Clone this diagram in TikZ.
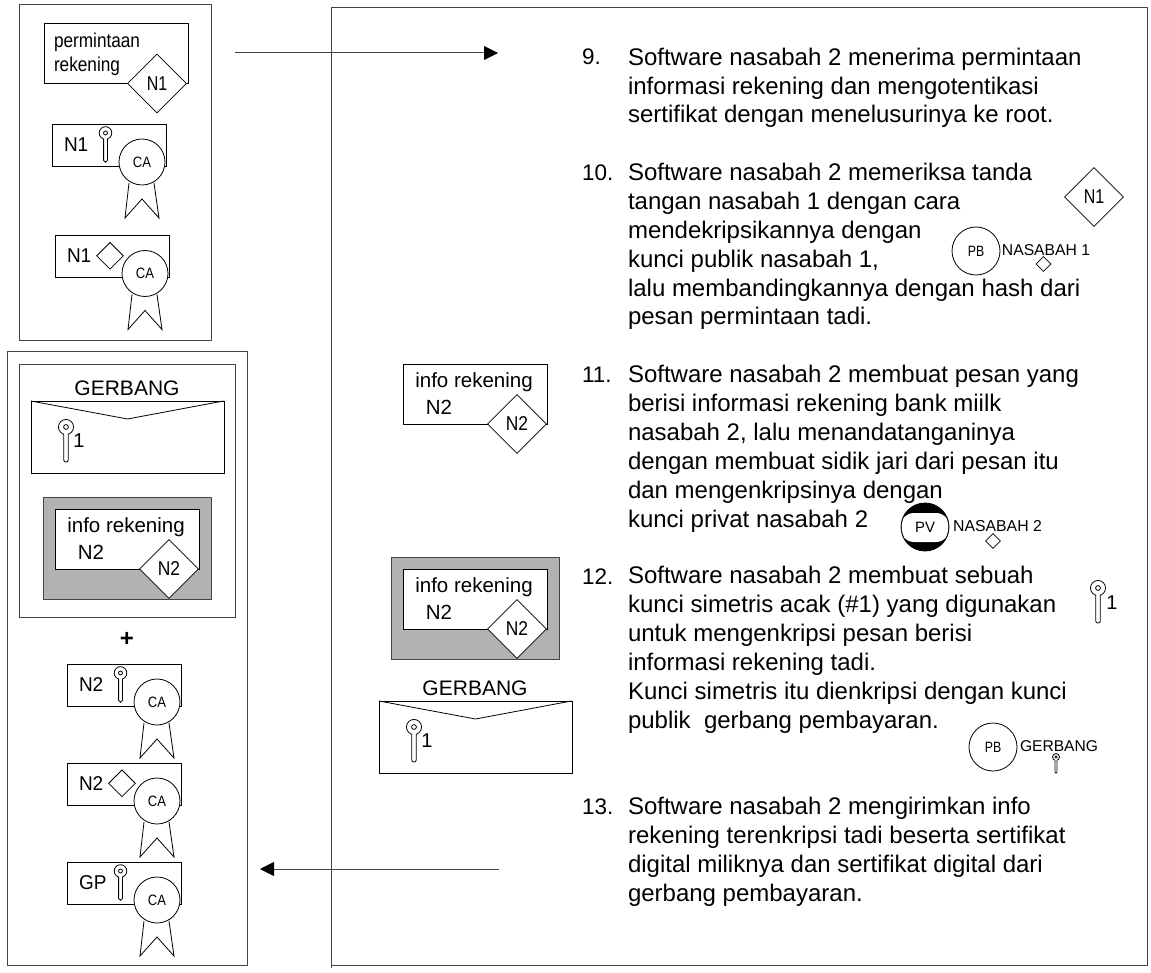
\documentclass[tikz,border=0pt]{standalone}
\usepackage{fontspec}
\setmainfont{Liberation Sans}
\usetikzlibrary{shapes.geometric,arrows.meta}
\definecolor{framec}{HTML}{444444}
\definecolor{boxgray}{HTML}{B2B2B2}
\newcommand\fsz[1]{\fontsize{#1}{28.95}\selectfont}
\newcommand\narrow[2]{\scalebox{#1}[1]{#2}}
\tikzset{
  frame/.style={draw=framec,line width=1pt},
  doc/.style={draw,line width=.8pt,fill=white,anchor=north west,inner sep=0pt},
  lbl/.style={inner sep=0pt,outer sep=0pt},
  body/.style={lbl,align=left,anchor=base west,font=\fsz{24}},
  num/.style={lbl,anchor=base west,font=\fsz{22.5}},
  sig/.style={diamond,draw,line width=.8pt,fill=white,inner sep=0pt,minimum width=59pt,minimum height=59pt,font=\fsz{20}},
  tinysig/.style={diamond,draw,line width=.8pt,fill=white,inner sep=0pt,minimum width=#1,minimum height=#1},
  seal/.style={circle,draw,line width=.8pt,fill=white,inner sep=0pt,minimum size=46pt,font=\fsz{15}},
  arrowline/.style={draw=framec,line width=1pt,-{Triangle[length=14pt,width=14pt,color=black]}}
}
% key icon: head centre at (#1,#2), scale #3
\newcommand\keyicon[3]{%
  \begin{scope}[shift={(#1,#2)},scale=#3,line width=.8pt]
    \draw (0,0) circle[radius=6.3];
    \draw (0,0) circle[radius=2];
    \fill[white] (-1.5,4) rectangle (1.5,7.5);
    \draw (-1.9,5.9) -- (-1.9,27.5) .. controls (-1.9,29.8) and (1.9,29.8) .. (1.9,27.5) -- (1.9,5.9);
  \end{scope}}
% ribbon + seal + frame of a certificate; #1 name, #2 x, #3 y, #4 label
\newcommand\certbase[4]{%
  \node[doc,minimum width=114pt,minimum height=42pt] (#1) at (#2,#3) {};
  \begin{scope}[shift={(#2,#3)}]
    \draw[line width=.8pt] (77,59) -- (73,94) -- (90,75) -- (107,94) -- (102,59);
    \node[seal] (#1ca) at (90,38) {\narrow{.87}{CA}};
    \node[lbl,anchor=base west,font=\fsz{20}] (#1t) at (12,27.5) {\narrow{.95}{#4}};
  \end{scope}}
\newcommand\certkey[4]{\certbase{#1}{#2}{#3}{#4}%
  \begin{scope}[shift={(#2,#3)}]\keyicon{53.5}{9}{1}\end{scope}}
\newcommand\certsig[4]{\certbase{#1}{#2}{#3}{#4}%
  \begin{scope}[shift={(#2,#3)}]\node[tinysig=27pt] (#1d) at (55,20.3) {};\end{scope}}
% signed info message at doc corner #2,#3
\newcommand\infodoc[3]{%
  \node[doc,minimum width=144pt,minimum height=60pt] (#1) at (#2,#3) {};
  \begin{scope}[shift={(#2,#3)}]
    \node[lbl,font=\fsz{20.5}] (#1a) at (71,18) {info rekening};
    \node[lbl,font=\fsz{20.5}] (#1b) at (36,43) {N2};
    \node[sig] (#1d) at (114,60) {\narrow{.87}{N2}};
  \end{scope}}
% envelope; #2 x, #3 y
\newcommand\envelope[3]{%
  \node[doc,minimum width=192.5pt,minimum height=72pt] (#1) at (#2,#3) {};
  \begin{scope}[shift={(#2,#3)}]
    \draw[line width=.8pt] (0,0) -- (96.5,18) -- (192.5,0);
    \keyicon{35}{26}{1.2}
    \node[lbl,font=\fsz{20}] (#1n) at (48,40) {1};
    \node[lbl,font=\fsz{21}] (#1g) at (96,-13) {GERBANG};
  \end{scope}}
\begin{document}
\begin{tikzpicture}[x=1pt,y=-1pt]
\useasboundingbox (0,0) rectangle (1151,973);
% frames
\draw[frame] (19,5) rectangle (211,341);
\draw[frame] (7,352) rectangle (247,965);
\draw[frame] (19,365) rectangle (235,617);
\draw[frame] (331,7.5) -- (1147,7.5) -- (1147,965) -- (331,965);
\draw[frame] (331,7.5) -- (331,968);
% first message
\node[doc,minimum width=144pt,minimum height=60pt] (req) at (43.5,23.5) {};
\node[lbl,anchor=base west,font=\fsz{20}] (reqa) at (54,48) {\narrow{.86}{permintaan}};
\node[lbl,anchor=base west,font=\fsz{20}] (reqb) at (54,72) {\narrow{.86}{rekening}};
\node[sig] (reqd) at (157,83.5) {\narrow{.8}{N1}};
\certkey{cn}{52}{124}{N1}
\certsig{cs}{55}{235.5}{N1}
% gateway group
\envelope{env}{31}{401}
\node[draw=framec,line width=.8pt,fill=boxgray,anchor=north west,minimum width=168pt,minimum height=102pt,inner sep=0pt] (grayA) at (43,497) {};
\infodoc{infoA}{55}{509}
\node[lbl,font=\bfseries\fsz{24}] (plus) at (127,639) {+};
\certkey{ctwo}{67}{664}{N2}
\certsig{csig}{67}{763}{N2}
\certkey{cgp}{67}{862}{GP}
% middle
\infodoc{infoB}{403}{364}
\node[draw=framec,line width=.8pt,fill=boxgray,anchor=north west,minimum width=168pt,minimum height=102pt,inner sep=0pt] (grayB) at (391,557) {};
\infodoc{infoC}{403}{569}
\envelope{envB}{379}{701}
% right icons
\node[sig] (sigone) at (1094,197) {\narrow{.8}{N1}};
\node[seal,minimum size=48pt] (pbone) at (976,251) {\narrow{.82}{PB}};
\node[lbl,font=\fsz{15.7}] (nasone) at (1046,250) {NASABAH 1};
\node[tinysig=15pt,fill=none] (done) at (1043.5,264) {};
\node[seal,minimum size=48pt,fill=black] (pv) at (925,527) {};
\begin{scope}
  \clip (925,527) circle[radius=23.3];
  \fill[white,rounded corners=14pt] (900,513) rectangle (950,542);
\end{scope}
\node[lbl,font=\fsz{15}] (pvt) at (925,527) {PV};
\node[lbl,font=\fsz{15.8}] (nastwo) at (997.5,526) {NASABAH 2};
\node[tinysig=15pt,fill=none] (dtwo) at (993,541) {};
\keyicon{1098}{588}{1.2}
\node[lbl,font=\fsz{20}] (keynum) at (1112,603) {1};
\node[seal,minimum size=48pt] (pbtwo) at (993,747) {\narrow{.82}{PB}};
\node[lbl,font=\fsz{15.6}] (gerb) at (1059,746) {GERBANG};
\keyicon{1056}{757}{.55}
% text
\node[num] (n9) at (582,65) {9.};
\node[body] (t9) at (628,123) {Software nasabah 2 menerima permintaan\\informasi rekening dan mengotentikasi\\sertifikat dengan menelusurinya ke root.};
\node[num] (n10) at (582,180.7) {10.};
\node[body] (t10) at (628,325) {Software nasabah 2 memeriksa tanda\\tangan nasabah 1 dengan cara\\mendekripsikannya dengan\\kunci publik nasabah 1,\\lalu membandingkannya dengan hash dari\\pesan permintaan tadi.};
\node[num] (n11) at (582,382) {11.};
\node[body] (t11) at (628,527) {Software nasabah 2 membuat pesan yang\\berisi informasi rekening bank miilk\\nasabah 2, lalu menandatanganinya\\dengan membuat sidik jari dari pesan itu\\dan mengenkripsinya dengan\\kunci privat nasabah 2};
\node[num] (n12) at (582,584) {12.};
\node[body] (t12) at (628,728.5) {Software nasabah 2 membuat sebuah\\kunci simetris acak (\#1) yang digunakan\\untuk mengenkripsi pesan berisi\\informasi rekening tadi.\\Kunci simetris itu dienkripsi dengan kunci\\publik\ \ gerbang pembayaran.};
\node[num] (n13) at (582,814) {13.};
\node[body] (t13) at (628,901) {Software nasabah 2 mengirimkan info\\rekening terenkripsi tadi beserta sertifikat\\digital miliknya dan sertifikat digital dari\\gerbang pembayaran.};
% arrows
\coordinate (a1) at (235,53);
\coordinate (a2) at (498,53);
\coordinate (b1) at (499,869);
\coordinate (b2) at (260,869);
\draw[arrowline] (a1) -- (a2);
\draw[arrowline] (b1) -- (b2);
\end{tikzpicture}
\end{document}
